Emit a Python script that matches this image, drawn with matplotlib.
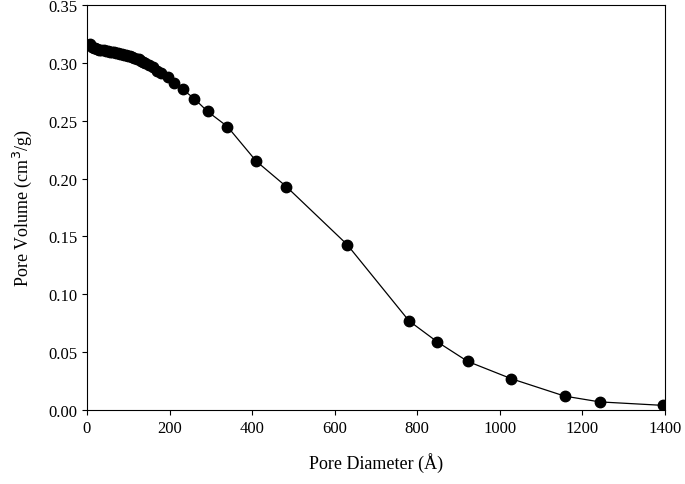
import matplotlib
matplotlib.use("Agg")
import matplotlib.pyplot as plt

plt.rcParams['font.family'] = 'Liberation Serif'

diameter = [8, 12, 16, 20, 25, 30, 35, 40, 45, 50, 55, 60, 65, 70, 75, 80, 85, 90, 95,
            100, 105, 110, 115, 120, 125, 130, 135, 140, 150, 160, 170, 180, 195, 210,
            232, 260, 292, 340, 410, 483, 630, 780, 848, 922, 1028, 1157, 1242, 1395]
volume = [0.316, 0.314, 0.313, 0.3125, 0.312, 0.3115, 0.311, 0.311, 0.3105, 0.310,
          0.3098, 0.3095, 0.309, 0.3088, 0.3085, 0.308, 0.3075, 0.307, 0.3065, 0.306,
          0.3055, 0.305, 0.304, 0.3035, 0.303, 0.302, 0.301, 0.300, 0.298, 0.296,
          0.293, 0.291, 0.288, 0.283, 0.277, 0.269, 0.258, 0.245, 0.215, 0.193,
          0.143, 0.077, 0.059, 0.042, 0.027, 0.012, 0.007, 0.004]

fig = plt.figure(figsize=(6.85, 4.85), dpi=100)
ax = fig.add_axes([87/685, 1 - 411/485, 578/685, 405/485])
ax.plot(diameter, volume, color='black', lw=0.9, marker='o', ms=7.5)
ax.set_xlim(0, 1400)
ax.set_ylim(0, 0.35)
ax.set_xticks(range(0, 1401, 200))
ax.set_yticks([i * 0.05 for i in range(8)])
ax.yaxis.set_major_formatter(plt.FormatStrFormatter('%.2f'))
ax.tick_params(direction='out', labelsize=12)
ax.set_xlabel('Pore Diameter (Å)', fontsize=13, labelpad=12)
ax.set_ylabel('Pore Volume (cm$^3$/g)', fontsize=13, labelpad=10)
fig.savefig('out.png')
